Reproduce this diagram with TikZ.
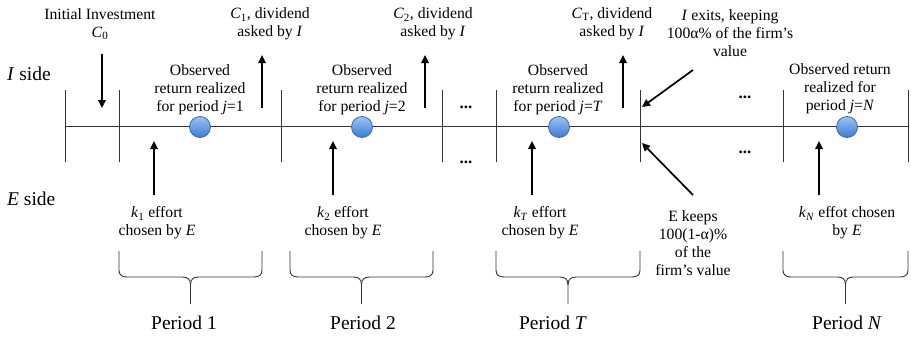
\documentclass[tikz,border=0pt]{standalone}
\usepackage{fontspec}
\setmainfont{Liberation Serif}
\usetikzlibrary{arrows.meta}
\definecolor{ballA}{HTML}{9CC3F5}
\definecolor{ballB}{HTML}{3D7BD4}
\definecolor{ballD}{HTML}{3A68A8}
\definecolor{lin}{HTML}{333333}
\tikzset{
  txt/.style={align=center,inner sep=0pt,font=\fontsize{15.7}{18}\selectfont},
  dotsty/.style={inner sep=0pt,font=\fontsize{17}{18}\selectfont\bfseries},
  big/.style={inner sep=0pt,font=\fontsize{19.5}{22}\selectfont},
  arr/.style={line width=1.7pt,-{Triangle[length=8pt,width=7.5pt]}},
  tick/.style={line width=0.9pt,lin},
  ball/.style={circle,minimum size=21pt,inner sep=0pt,top color=ballA,bottom color=ballB,draw=ballD,line width=0.8pt},
  brc/.style={line width=0.9pt,lin}
}
\begin{document}
\begin{tikzpicture}[x=1pt,y=-1pt]
\useasboundingbox (0,0) rectangle (911,338);
% timeline
\coordinate (tl) at (65,126);
\coordinate (tr) at (909,126);
\draw[tick] (tl) -- (tr);
\foreach \x in {65,119,281,442,496,640,783,908}{
  \draw[tick] (\x,90) -- (\x,162);
}
% balls
\node[ball] (b1) at (200,127) {};
\node[ball] (b2) at (362,127) {};
\node[ball] (b3) at (559,127) {};
\node[ball] (b4) at (847,127) {};
% side labels
\node[big,anchor=west] (iside) at (7,74) {\textit{I} side};
\node[big,anchor=west] (eside) at (7,199) {\textit{E} side};
% top texts
\node[txt] (init) at (100,24) {Initial Investment\\\textit{C}\textsubscript{0}};
\node[txt] (c1) at (270,24) {\textit{C}\textsubscript{1}, dividend\\asked by \textit{I}};
\node[txt] (c2) at (433,24) {\textit{C}\textsubscript{2}, dividend\\asked by \textit{I}};
\node[txt] (cT) at (612,24) {\textit{C}\textsubscript{T}, dividend\\asked by \textit{I}};
\node[txt] (iexit) at (730,33) {\textit{I} exits, keeping\\100α\% of the firm’s\\value};
\node[txt] (o1) at (200,90) {Observed\\return realized\\for period \textit{j}=1};
\node[txt] (o2) at (362,90) {Observed\\return realized\\for period \textit{j}=2};
\node[txt] (oT) at (558,90) {Observed\\return realized\\for period \textit{j}=\textit{T}};
\node[txt] (oN) at (840,89) {Observed return\\realized for\\period \textit{j}=\textit{N}};
\node[dotsty] (d1) at (466,107) {...};
\node[dotsty] (d2) at (466,162) {...};
\node[dotsty] (d3) at (745,97) {...};
\node[dotsty] (d4) at (745,152) {...};
% bottom texts
\node[txt] (k1) at (157,223) {\textit{k}\textsubscript{1} effort\\chosen by \textit{E}};
\node[txt] (k2) at (343,223) {\textit{k}\textsubscript{2} effort\\chosen by \textit{E}};
\node[txt] (kT) at (540,223) {\textit{k}\textsubscript{\textit{T}} effort\\chosen by \textit{E}};
\node[txt] (ek) at (693,243) {E keeps\\100(1-α)\%\\of the\\firm’s value};
\node[txt] (kN) at (847,223) {\textit{k}\textsubscript{\textit{N}} effot chosen\\by \textit{E}};
% arrow coordinates
\coordinate (a0s) at (102,54);  \coordinate (a0e) at (102,108);
\coordinate (a1s) at (262,108); \coordinate (a1e) at (262,55);
\coordinate (a2s) at (425,108); \coordinate (a2e) at (425,55);
\coordinate (a3s) at (623,108); \coordinate (a3e) at (623,55);
\coordinate (e1s) at (154,195); \coordinate (e1e) at (154,141);
\coordinate (e2s) at (333,195); \coordinate (e2e) at (333,141);
\coordinate (e3s) at (532,195); \coordinate (e3e) at (532,141);
\coordinate (e4s) at (819,195); \coordinate (e4e) at (819,141);
\coordinate (xs) at (693,70);   \coordinate (xe) at (642,107);
\coordinate (ys) at (693,195);  \coordinate (ye) at (642,143);
\foreach \s/\e in {a0s/a0e,a1s/a1e,a2s/a2e,a3s/a3e,e1s/e1e,e2s/e2e,e3s/e3e,e4s/e4e,xs/xe,ys/ye}{
  \draw[arr] (\s) -- (\e);
}
% braces
\foreach \xa/\xb in {119/262,290/433,496/640,783/908}{
  \pgfmathsetmacro{\xm}{(\xa+\xb)/2}
  \draw[brc] (\xa,251) -- (\xa,270) .. controls (\xa,275) and ({\xa+3},277) .. ({\xa+8},277)
     -- ({\xm-8},277) .. controls ({\xm-3},277) and (\xm,279) .. (\xm,285) -- (\xm,304);
  \draw[brc] (\xm,285) .. controls (\xm,279) and ({\xm+3},277) .. ({\xm+8},277)
     -- ({\xb-8},277) .. controls ({\xb-3},277) and (\xb,275) .. (\xb,270) -- (\xb,251);
}
\node[big] (p1) at (184,323) {Period 1};
\node[big] (p2) at (363,323) {Period 2};
\node[big] (pT) at (553,323) {Period \textit{T}};
\node[big] (pN) at (847,323) {Period \textit{N}};
\end{tikzpicture}
\end{document}
